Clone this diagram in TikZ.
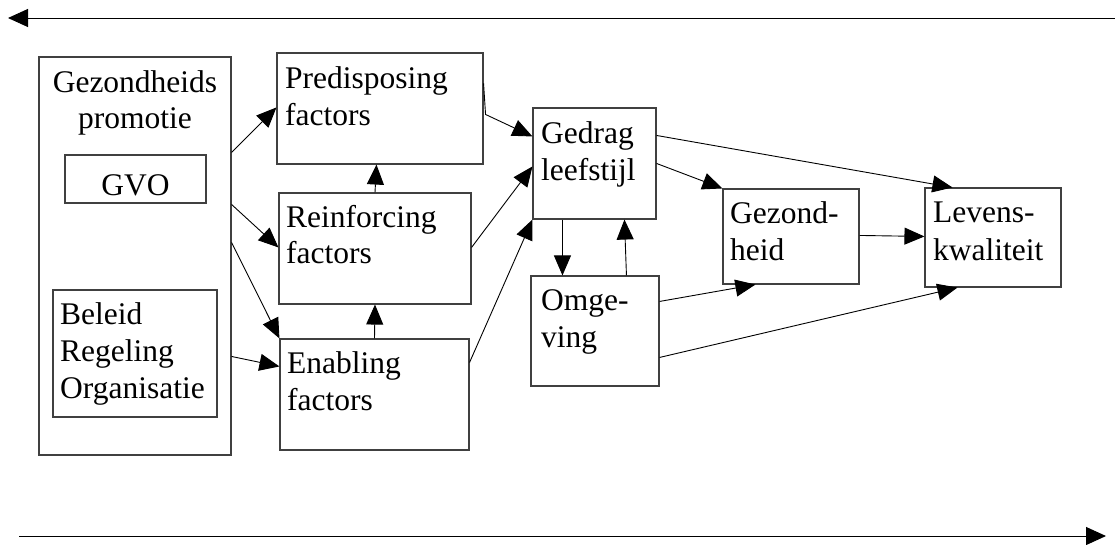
\documentclass[tikz,border=0pt]{standalone}
\usepackage{fontspec}
\setmainfont{Liberation Serif}
\usetikzlibrary{arrows.meta,calc}
\begin{document}
\begin{tikzpicture}[x=1pt,y=-1pt,
  box/.style={draw=black!75, line width=1.1pt, rectangle, inner sep=0pt},
  lbl/.style={anchor=base west, inner sep=0pt, font=\fontsize{31.5}{37}\selectfont},
  clbl/.style={anchor=base, inner sep=0pt, font=\fontsize{31.5}{37}\selectfont},
  con/.style={draw=black, line width=0.9pt, -{Triangle[length=20pt,width=17pt]}},
  bigcon/.style={draw=black, line width=1pt, -{Triangle[length=20pt,width=18pt]}}]
\useasboundingbox (0,0) rectangle (1115,544);
% boxes
\node[box, minimum width=192pt, minimum height=398pt] (gp)  at (135,256) {};
\node[box, minimum width=141pt, minimum height=48pt]  (gvo) at (135.5,179) {};
\node[box, minimum width=164pt, minimum height=127pt] (bro) at (135,353.5) {};
\node[box, minimum width=206pt, minimum height=111pt] (pre) at (380,108.5) {};
\node[box, minimum width=192pt, minimum height=111pt] (rei) at (375,248.5) {};
\node[box, minimum width=189pt, minimum height=111pt] (ena) at (374.5,394.5) {};
\node[box, minimum width=123pt, minimum height=111pt] (ged) at (594.5,163.5) {};
\node[box, minimum width=128pt, minimum height=110pt] (omg) at (595,331) {};
\node[box, minimum width=136pt, minimum height=95pt]  (gez) at (791,236.5) {};
\node[box, minimum width=136pt, minimum height=99pt]  (lev) at (993,237.5) {};
% texts
\node[clbl] (gp1) at (135,92) {Gezondheids};
\node[clbl] (gp2) at (135,128) {promotie};
\node[clbl] (gvo1) at (135.5,195) {GVO};
\node[lbl] (bro1) at (60,324) {Beleid};
\node[lbl] (bro2) at (60,361) {Regeling};
\node[lbl] (bro3) at (60,398) {Organisatie};
\node[lbl] (pre1) at (285,88) {Predisposing};
\node[lbl] (pre2) at (285,125) {factors};
\node[lbl] (rei1) at (286,227) {Reinforcing};
\node[lbl] (rei2) at (286,263) {factors};
\node[lbl] (ena1) at (287,373) {Enabling};
\node[lbl] (ena2) at (287,410) {factors};
\node[lbl] (ged1) at (541,143) {Gedrag};
\node[lbl] (ged2) at (541,180) {leefstijl};
\node[lbl] (omg1) at (541,310) {Omge-};
\node[lbl] (omg2) at (541,347) {ving};
\node[lbl] (gez1) at (730,223) {Gezond-};
\node[lbl] (gez2) at (730,260) {heid};
\node[lbl] (lev1) at (933,222) {Levens-};
\node[lbl] (lev2) at (933,260) {kwaliteit};
% long arrows
\coordinate (topR) at (1115,18);
\coordinate (topL) at (8,18);
\coordinate (botL) at (19,536);
\coordinate (botR) at (1106,536);
\draw[bigcon] (topR) -- (topL);
\draw[bigcon] (botL) -- (botR);
% connectors
\draw[con] ($(gp.north east)+(0,96)$) -- ($(pre.north west)+(0,55)$);
\draw[con] ($(gp.north east)+(0,148)$) -- ($(rei.north west)+(0,55)$);
\draw[con] ($(gp.north east)+(0,186)$) -- (ena.north west);
\draw[con] ($(gp.north east)+(0,300)$) -- ($(ena.north west)+(0,28)$);
\draw[con] (ena.north) -- (rei.south);
\draw[con] (rei.north) -- ($(pre.south west)+(100,0)$);
\draw[con] ($(pre.north east)+(0,31)$) -- ($(pre.north east)+(2,62)$) -- ($(ged.north west)+(0,29)$);
\draw[con] ($(rei.north east)+(0,55)$) -- ($(ged.north west)+(0,59)$);
\draw[con] ($(ena.north east)+(0,24)$) -- (ged.south west);
\draw[con] ($(ged.south west)+(30,0)$) -- ($(omg.north west)+(32,0)$);
\draw[con] ($(omg.north west)+(96,0)$) -- ($(ged.south west)+(92,0)$);
\draw[con] ($(ged.north east)+(0,28)$) -- ($(lev.north west)+(28,0)$);
\draw[con] ($(ged.north east)+(0,56)$) -- (gez.north west);
\draw[con] ($(gez.north east)+(0,47)$) -- ($(lev.north west)+(0,49)$);
\draw[con] ($(omg.north east)+(0,26)$) -- ($(gez.south west)+(33,0)$);
\draw[con] ($(omg.north east)+(0,82)$) -- ($(lev.south west)+(33,0)$);
\end{tikzpicture}
\end{document}
